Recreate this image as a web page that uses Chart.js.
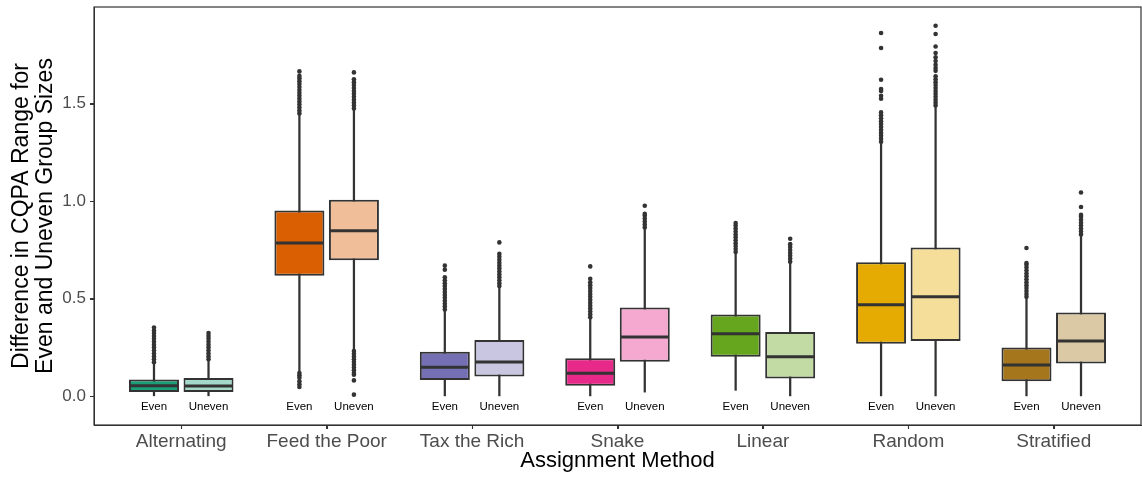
<!DOCTYPE html>
<html>
<head>
<meta charset="utf-8">
<title>CQPA range by assignment method</title>
<script src="https://cdn.jsdelivr.net/npm/chart.js@4/dist/chart.umd.min.js"></script>
<style>
  html, body { margin: 0; padding: 0; background: #ffffff; }
  #chart { display: block; }
</style>
</head>
<body>
<canvas id="chart" width="1142" height="477"></canvas>
<script>
// Assignment methods along the x axis
const methods = ['Alternating', 'Feed the Poor', 'Tax the Rich', 'Snake', 'Linear', 'Random', 'Stratified'];
const groupLabels = ['Even', 'Uneven'];
const yTicks = [0, 0.5, 1.0, 1.5];

// Box statistics, Even group sizes
const evenLow    = [0.003, 0.128, 0.000, 0.000, 0.031, 0.000, 0.000];
const evenQ1     = [0.023, 0.618, 0.084, 0.055, 0.203, 0.270, 0.077];
const evenMedian = [0.055, 0.786, 0.149, 0.118, 0.321, 0.470, 0.161];
const evenQ3     = [0.086, 0.953, 0.229, 0.195, 0.419, 0.687, 0.251];
const evenHigh   = [0.170, 1.443, 0.436, 0.398, 0.735, 1.298, 0.504];

// Box statistics, Uneven group sizes
const unevenLow    = [0.003, 0.239, 0.000, 0.022, 0.000, 0.000, 0.000];
const unevenQ1     = [0.023, 0.697, 0.102, 0.178, 0.092, 0.284, 0.168];
const unevenMedian = [0.053, 0.849, 0.176, 0.304, 0.203, 0.511, 0.284];
const unevenQ3     = [0.094, 1.008, 0.289, 0.456, 0.330, 0.763, 0.430];
const unevenHigh   = [0.185, 1.469, 0.560, 0.858, 0.683, 1.486, 0.823];

// Outlying points beyond the whiskers
const evenOutliers = [
  [0.175, 0.19, 0.205, 0.22, 0.235, 0.25, 0.265, 0.28, 0.295, 0.31, 0.325, 0.338, 0.353],
  [1.45, 1.465, 1.48, 1.495, 1.51, 1.525, 1.54, 1.555, 1.57, 1.585, 1.60, 1.615, 1.63, 1.642, 1.665,
   0.12, 0.108, 0.096, 0.077, 0.062, 0.048],
  [0.445, 0.46, 0.475, 0.49, 0.505, 0.52, 0.535, 0.55, 0.565, 0.58, 0.595, 0.61, 0.649, 0.67],
  [0.405, 0.42, 0.435, 0.45, 0.465, 0.48, 0.495, 0.51, 0.525, 0.54, 0.555, 0.57, 0.585, 0.603, 0.666],
  [0.74, 0.755, 0.77, 0.785, 0.80, 0.815, 0.83, 0.845, 0.86, 0.875, 0.888],
  [1.305, 1.32, 1.335, 1.35, 1.365, 1.38, 1.395, 1.41, 1.425, 1.44, 1.455, 1.525, 1.54, 1.565, 1.575,
   1.622, 1.785, 1.862],
  [0.51, 0.525, 0.54, 0.555, 0.57, 0.585, 0.60, 0.615, 0.63, 0.645, 0.66, 0.675, 0.683, 0.76]
];
const unevenOutliers = [
  [0.19, 0.205, 0.22, 0.235, 0.25, 0.265, 0.28, 0.295, 0.31, 0.325],
  [1.475, 1.49, 1.505, 1.52, 1.535, 1.55, 1.565, 1.58, 1.595, 1.61, 1.625, 1.66,
   0.232, 0.218, 0.204, 0.19, 0.176, 0.162, 0.148, 0.134, 0.12, 0.111, 0.082, 0.009],
  [0.565, 0.58, 0.595, 0.61, 0.625, 0.64, 0.655, 0.67, 0.685, 0.70, 0.715, 0.73, 0.789],
  [0.865, 0.88, 0.895, 0.91, 0.925, 0.935, 0.977],
  [0.69, 0.705, 0.72, 0.735, 0.75, 0.765, 0.78, 0.808],
  [1.49, 1.505, 1.52, 1.535, 1.55, 1.565, 1.58, 1.595, 1.61, 1.625, 1.64, 1.668, 1.682, 1.699, 1.718,
   1.737, 1.759, 1.793, 1.857, 1.899],
  [0.83, 0.845, 0.86, 0.875, 0.89, 0.905, 0.92, 0.93, 0.97, 1.045]
];

// Fill colours: full strength for Even, lightened for Uneven
const evenColors   = ['#1b9e77', '#d95f02', '#7570b3', '#e7298a', '#66a61e', '#e6ab02', '#a6761d'];
const unevenColors = ['#a4d8c9', '#f0bf9a', '#c8c6e1', '#f5a9d0', '#c2dba5', '#f5dd9a', '#dbc8a5'];

// Horizontal dodge of the two boxes around each method
const dodge = 0.1875;
const ink = '#333333';
const fontFamily = '"Liberation Sans", Arial, Helvetica, sans-serif';

function xPos(i, g) { return i + 1 + (g === 0 ? -dodge : dodge); }

function whiskerData(lo, hi, g) { return methods.map((m, i) => ({ x: xPos(i, g), y: [lo[i], hi[i]] })); }
function boxData(q1, q3, g) { return methods.map((m, i) => ({ x: xPos(i, g), y: [q1[i], q3[i]] })); }
function medianData(med, g) { return methods.map((m, i) => ({ x: xPos(i, g), y: med[i] })); }
function outlierData(list, g) {
  const pts = [];
  list.forEach((vals, i) => vals.forEach(v => pts.push({ x: xPos(i, g), y: v })));
  return pts;
}

const whiskerStyle = {
  type: 'bar', grouped: false, backgroundColor: ink, borderWidth: 0,
  barPercentage: 1, categoryPercentage: 1, maxBarThickness: 1.6, order: 3
};
const boxStyle = {
  type: 'bar', grouped: false, borderColor: ink, borderWidth: 2, borderSkipped: false,
  barPercentage: 5, categoryPercentage: 1, maxBarThickness: 50, order: 2
};
const medianStyle = {
  type: 'scatter', pointStyle: 'line', pointRadius: 24, borderColor: ink, borderWidth: 3, order: 1
};
const outlierStyle = {
  type: 'scatter', pointStyle: 'circle', pointRadius: 2.3, backgroundColor: ink, borderWidth: 0, order: 0
};

const datasets = [
  Object.assign({ label: 'Even whiskers', data: whiskerData(evenLow, evenHigh, 0) }, whiskerStyle),
  Object.assign({ label: 'Uneven whiskers', data: whiskerData(unevenLow, unevenHigh, 1) }, whiskerStyle),
  Object.assign({ label: 'Even', data: boxData(evenQ1, evenQ3, 0), backgroundColor: evenColors }, boxStyle),
  Object.assign({ label: 'Uneven', data: boxData(unevenQ1, unevenQ3, 1), backgroundColor: unevenColors }, boxStyle),
  Object.assign({ label: 'Even median', data: medianData(evenMedian, 0) }, medianStyle),
  Object.assign({ label: 'Uneven median', data: medianData(unevenMedian, 1) }, medianStyle),
  Object.assign({ label: 'Even outliers', data: outlierData(evenOutliers, 0) }, outlierStyle),
  Object.assign({ label: 'Uneven outliers', data: outlierData(unevenOutliers, 1) }, outlierStyle)
];

// Panel frame around the plotting area, with short outward tick marks
const panelFrame = {
  id: 'panelFrame',
  afterDraw(chart) {
    const { ctx, chartArea: a, scales: { x, y } } = chart;
    ctx.save();
    ctx.strokeStyle = ink;
    ctx.lineWidth = 1.2;
    ctx.strokeRect(a.left, a.top, a.right - a.left, a.bottom - a.top);
    ctx.lineWidth = 1.1;
    ctx.beginPath();
    x.ticks.forEach(t => {
      const px = Math.round(x.getPixelForValue(t.value)) + 0.5;
      ctx.moveTo(px, a.bottom);
      ctx.lineTo(px, a.bottom + 4);
    });
    y.ticks.forEach(t => {
      const py = Math.round(y.getPixelForValue(t.value)) + 0.5;
      ctx.moveTo(a.left - 4, py);
      ctx.lineTo(a.left, py);
    });
    ctx.stroke();
    ctx.restore();
  }
};

// "Even" / "Uneven" captions under every pair of boxes
const groupCaptions = {
  id: 'groupCaptions',
  afterDatasetsDraw(chart) {
    const { ctx, scales: { x, y } } = chart;
    ctx.save();
    ctx.fillStyle = '#000000';
    ctx.font = '11.5px ' + fontFamily;
    ctx.textAlign = 'center';
    ctx.textBaseline = 'middle';
    const yPix = y.getPixelForValue(-0.054);
    methods.forEach((m, i) => {
      groupLabels.forEach((lab, g) => ctx.fillText(lab, x.getPixelForValue(xPos(i, g)), yPix));
    });
    ctx.restore();
  }
};

new Chart(document.getElementById('chart'), {
  type: 'bar',
  data: { datasets },
  plugins: [panelFrame, groupCaptions],
  options: {
    responsive: false,
    devicePixelRatio: 1,
    animation: false,
    events: [],
    layout: { autoPadding: false, padding: { left: 0, top: 7, right: 1, bottom: 0 } },
    plugins: { legend: { display: false }, tooltip: { enabled: false } },
    scales: {
      x: {
        type: 'linear',
        offset: false,
        min: 0.4,
        max: 7.6,
        afterBuildTicks(scale) { scale.ticks = methods.map((m, i) => ({ value: i + 1 })); },
        afterFit(scale) {
          scale.height = 52;
          scale.paddingLeft = 0;
          scale.paddingRight = 0;
        },
        grid: { drawOnChartArea: false, offset: false, color: ink, tickLength: 4, lineWidth: 1 },
        border: { display: true, color: ink, width: 1 },
        ticks: {
          autoSkip: false,
          maxRotation: 0,
          padding: 1,
          color: '#4d4d4d',
          font: { family: fontFamily, size: 19 },
          callback: (value, index) => methods[index]
        },
        title: {
          display: true,
          text: 'Assignment Method',
          color: '#000000',
          font: { family: fontFamily, size: 22 },
          padding: { top: 0, bottom: 3 }
        }
      },
      y: {
        type: 'linear',
        min: -0.1465,
        max: 1.995,
        afterBuildTicks(scale) { scale.ticks = yTicks.map(v => ({ value: v })); },
        afterFit(scale) {
          scale.width = 94;
          scale.paddingTop = 0;
          scale.paddingBottom = 0;
        },
        grid: { drawOnChartArea: false, color: ink, tickLength: 4, lineWidth: 1 },
        border: { display: true, color: ink, width: 1 },
        ticks: {
          padding: 4,
          color: '#4d4d4d',
          font: { family: fontFamily, size: 17 },
          callback: (value) => Number(value).toFixed(1)
        },
        title: {
          display: true,
          text: ['Difference in CQPA Range for', 'Even and Uneven Group Sizes'],
          color: '#000000',
          font: { family: fontFamily, size: 23, lineHeight: '24px' },
          padding: { top: 10, bottom: 0 }
        }
      }
    }
  }
});
</script>
</body>
</html>
